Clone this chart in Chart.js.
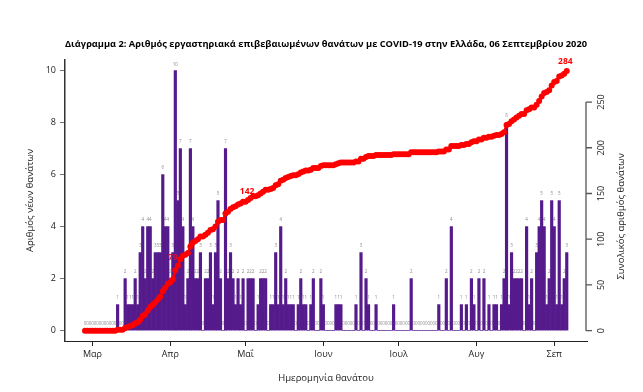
<!DOCTYPE html>
<html>
<head>
<meta charset="utf-8">
<script src="https://cdn.jsdelivr.net/npm/chart.js@4.4.0/dist/chart.umd.min.js"></script>
<style>
  html, body { margin: 0; padding: 0; background: #fff; }
</style>
</head>
<body>
<canvas id="deathsChart" width="643" height="392"></canvas>
<script>
// daily deaths, one value per day from 27 Feb 2020 to 6 Sep 2020
const dailyDeaths = [
  0,0,0,0,0,0,0,0,0,0,
  0,0,0,1,0,0,2,1,1,1,
  2,1,3,4,2,4,4,2,3,3,
  3,6,4,4,2,3,10,5,7,4,
  1,2,7,4,2,2,3,0,2,2,
  3,1,3,5,2,0,7,2,3,2,
  1,2,1,2,0,2,2,2,0,1,
  2,2,2,0,1,1,3,1,4,1,
  2,1,1,1,0,1,2,1,1,0,
  1,2,0,0,2,1,0,0,0,0,
  1,1,1,0,0,0,0,0,1,0,
  3,0,2,1,0,0,1,0,0,0,
  0,0,0,1,0,0,0,0,0,0,
  2,0,0,0,0,0,0,0,0,0,
  0,1,0,0,2,0,4,0,0,0,
  1,0,1,0,2,1,0,2,0,2,
  0,1,0,1,1,0,1,2,8,1,
  3,2,2,2,2,0,4,1,2,0,
  3,4,5,4,1,2,5,4,1,5,
  1,2,3
];
const monthTicks = [3, 34, 64, 95, 125, 156, 187];   // day index of the 1st of each month
const monthLabels = ['Μαρ', 'Απρ', 'Μαΐ', 'Ιουν', 'Ιουλ', 'Αυγ', 'Σεπ'];
const leftTicks = [0, 2, 4, 6, 8, 10];
const rightTicks = [0, 50, 100, 150, 200, 250];
const noteIdx = [38, 64, 192];
const noteText = ['79', '142', '284'];

const days = dailyDeaths.map((v, i) => i);
const cumulative = [];
let run = 0;
dailyDeaths.forEach(v => { run += v; cumulative.push(run); });

const FONT = "'Open Sans', 'DejaVu Sans', sans-serif";

const barLabels = {
  id: 'barLabels',
  beforeDatasetsDraw(chart) {
    const { ctx, scales: { x, y } } = chart;
    ctx.save();
    ctx.font = '4.5px ' + FONT;
    ctx.fillStyle = '#8c8c8c';
    ctx.textAlign = 'center';
    ctx.textBaseline = 'middle';
    dailyDeaths.forEach((v, i) => {
      ctx.fillText(String(v), x.getPixelForValue(i), y.getPixelForValue(v) - 6.4);
    });
    ctx.restore();
  }
};

const rightAxis = {
  id: 'rightAxis',
  afterDraw(chart) {
    const { ctx, scales: { y2 } } = chart;
    const ax = 586;
    const top = y2.getPixelForValue(rightTicks[rightTicks.length - 1]);
    const bot = y2.getPixelForValue(rightTicks[0]);
    ctx.save();
    ctx.strokeStyle = '#555';
    ctx.lineWidth = 1.3;
    ctx.beginPath();
    ctx.moveTo(ax, top);
    ctx.lineTo(ax, bot);
    rightTicks.forEach(t => {
      const p = y2.getPixelForValue(t);
      ctx.moveTo(ax, p);
      ctx.lineTo(ax + 6, p);
    });
    ctx.stroke();
    ctx.fillStyle = '#222';
    ctx.textAlign = 'center';
    ctx.textBaseline = 'middle';
    ctx.font = '9px ' + FONT;
    rightTicks.forEach(t => {
      ctx.save();
      ctx.translate(601.5, y2.getPixelForValue(t));
      ctx.rotate(-Math.PI / 2);
      ctx.fillText(String(t), 0, 0);
      ctx.restore();
    });
    ctx.font = '9.5px ' + FONT;
    ctx.translate(621, (top + bot) / 2);
    ctx.rotate(-Math.PI / 2);
    ctx.fillText('Συνολικός αριθμός θανάτων', 0, 0);
    ctx.restore();
  }
};

const notes = {
  id: 'notes',
  afterDatasetsDraw(chart) {
    const { ctx, scales: { x, y2 } } = chart;
    const offs = [[-2.5, -1.5, 'right', '#d3123a'], [1.5, -10, 'center', '#ff0000'], [-1.4, -9, 'center', '#ff0000']];
    ctx.save();
    ctx.font = 'bold 8.5px ' + FONT;
    ctx.textBaseline = 'middle';
    noteIdx.forEach((idx, k) => {
      ctx.textAlign = offs[k][2];
      ctx.fillStyle = offs[k][3];
      ctx.fillText(noteText[k], x.getPixelForValue(idx) + offs[k][0], y2.getPixelForValue(cumulative[idx]) + offs[k][1]);
    });
    ctx.restore();
  }
};

const ctx = document.getElementById('deathsChart').getContext('2d');
const deathsChart = new Chart(ctx, {
  data: {
    datasets: [
      {
        type: 'line',
        label: 'Συνολικός αριθμός θανάτων',
        data: days.map(i => ({ x: i, y: cumulative[i] })),
        yAxisID: 'y2',
        borderColor: '#ff0000',
        backgroundColor: '#ff0000',
        borderWidth: 2.5,
        pointRadius: 3,
        pointBorderWidth: 0,
        tension: 0,
        order: 0
      },
      {
        type: 'bar',
        label: 'Αριθμός νέων θανάτων',
        data: days.map(i => ({ x: i, y: dailyDeaths[i] })),
        yAxisID: 'y',
        backgroundColor: '#551A8B',
        barPercentage: 1,
        categoryPercentage: 1,
        order: 1
      }
    ]
  },
  options: {
    responsive: false,
    animation: false,
    devicePixelRatio: 1,
    layout: { padding: { left: 0, right: 56, top: 0, bottom: 0 } },
    plugins: {
      legend: { display: false },
      tooltip: { enabled: false },
      title: {
        display: true,
        fullSize: false,
        text: 'Διάγραμμα 2: Αριθμός εργαστηριακά επιβεβαιωμένων θανάτων με COVID-19 στην Ελλάδα, 06 Σεπτεμβρίου 2020',
        color: '#000',
        font: { family: FONT, size: 9.3, weight: 'bold', lineHeight: 1.2 },
        padding: { top: 39, bottom: 9.8 }
      }
    },
    scales: {
      x: {
        type: 'linear',
        offset: false,
        min: -7.97,
        max: 200.07,
        afterBuildTicks: s => { s.ticks = monthTicks.map(v => ({ value: v })); },
        afterFit: s => { s.height = 51; },
        ticks: {
          autoSkip: false,
          maxRotation: 0,
          padding: 3,
          color: '#222',
          font: { family: FONT, size: 9 },
          callback: v => monthLabels[monthTicks.indexOf(v)]
        },
        grid: { offset: false, drawOnChartArea: false, drawTicks: true, tickLength: 5, color: '#222' },
        border: { display: true, color: '#222', width: 1 },
        title: {
          display: true,
          text: 'Ημερομηνία θανάτου',
          color: '#222',
          font: { family: FONT, size: 9.5 },
          padding: { top: 0, bottom: 8 }
        }
      },
      y: {
        position: 'left',
        min: -0.4,
        max: 10.41,
        afterBuildTicks: s => { s.ticks = leftTicks.map(v => ({ value: v })); },
        afterFit: s => { s.width = 65; },
        ticks: { padding: 4, color: '#222', font: { family: FONT, size: 9 } },
        grid: { drawOnChartArea: false, drawTicks: true, tickLength: 5, color: '#777' },
        border: { display: true, color: '#333', width: 1.5 },
        title: {
          display: true,
          text: 'Αριθμός νέων θανάτων',
          color: '#222',
          font: { family: FONT, size: 9.5 },
          padding: { top: 25, bottom: 0 }
        }
      },
      y2: {
        position: 'right',
        display: false,
        min: -11.3,
        max: 296
      }
    }
  },
  plugins: [barLabels, rightAxis, notes]
});
</script>
</body>
</html>
